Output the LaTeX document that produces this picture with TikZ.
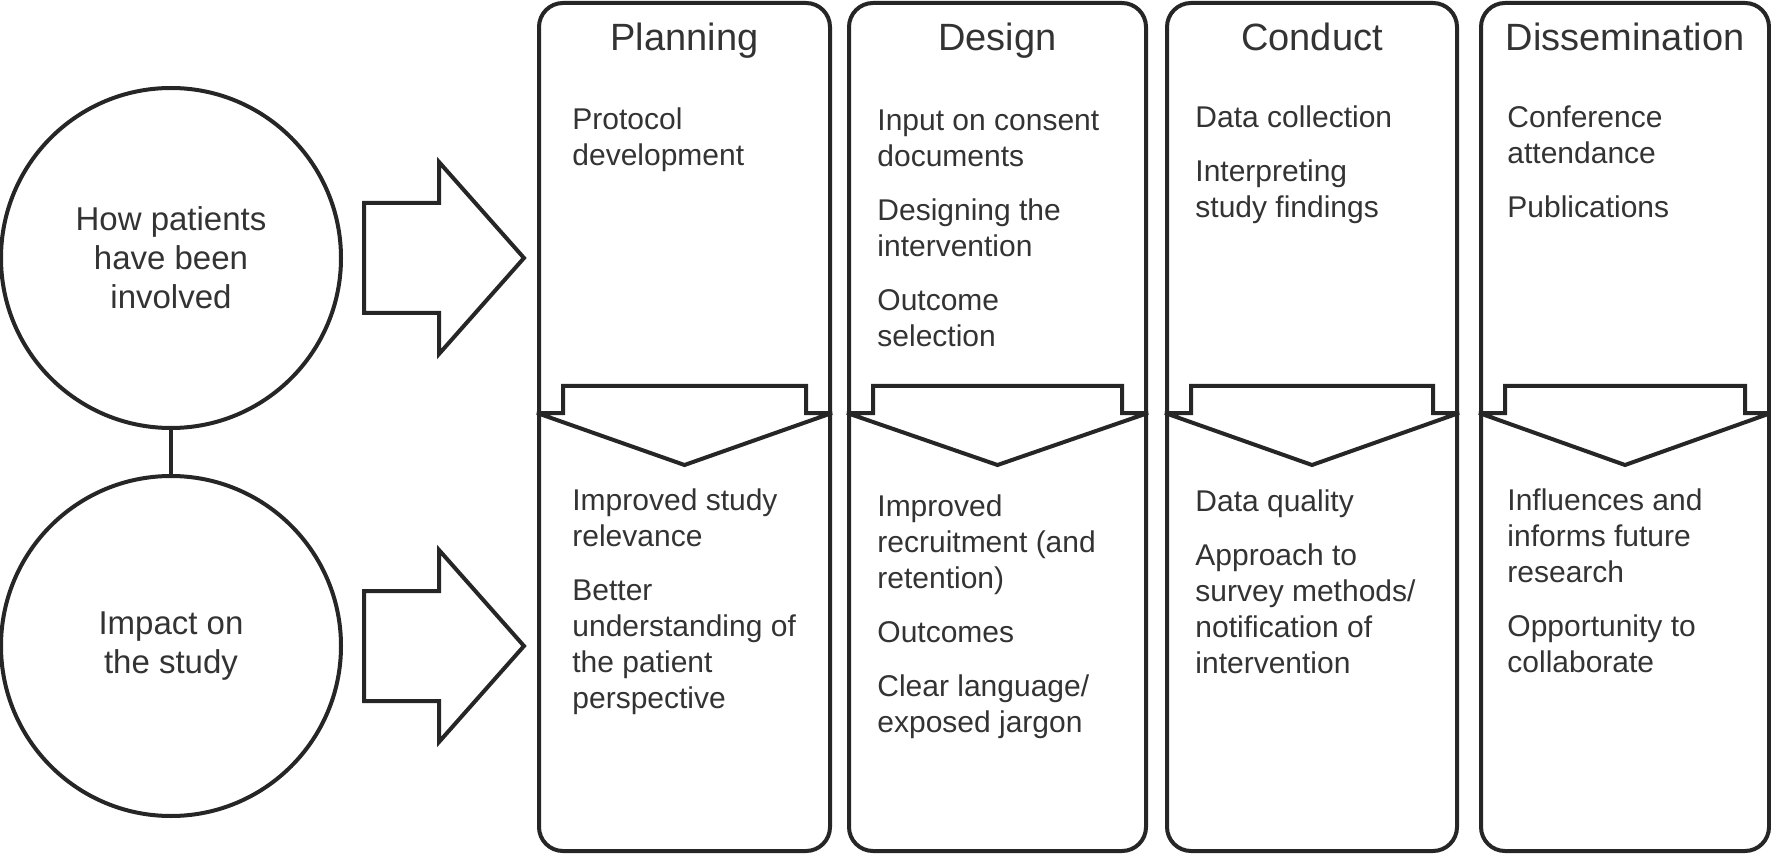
\documentclass[tikz,border=0pt]{standalone}
\usepackage{fontspec}
\setmainfont{Liberation Sans}
\usepackage{xcolor}
\usepackage{tikz}
\usetikzlibrary{calc}
\usetikzlibrary{positioning}

\definecolor{linegray}{HTML}{262626}
\definecolor{textgray}{HTML}{333333}

\begin{document}
\begin{tikzpicture}[x=0.5pt,y=-0.5pt,
	phase/.style={draw=linegray,line width=2pt,rounded corners=12pt,minimum height=424pt,inner sep=0pt},
	circ/.style={circle,draw=linegray,line width=2pt,minimum size=170pt,inner sep=0pt,align=center,text=textgray,font=\fontsize{16.5}{19.5}\selectfont},
	blockarr/.style={draw=linegray,line width=2pt,miter limit=4},
	title/.style={anchor=base,text=textgray,font=\fontsize{19}{23}\selectfont},
	items/.style={anchor=north west,align=left,inner sep=0pt,text=textgray,font=\fontsize{15}{18}\selectfont}]
	\useasboundingbox (0,0) rectangle (1771,855);

	% the two circles
	\node[circ] (how) at (171,258) {How patients\\have been\\involved};
	\node[circ] (impact) at (171,646) {Impact on\\the study};
	\draw[linegray,line width=2pt] (how) -- (impact);

	% block arrows to the right
	\draw[blockarr] ($(how.east)+(21,-55)$) -- ++(75,0) -- ++(0,-41) -- ++(85,96) -- ++(-85,96) -- ++(0,-41) -- ++(-75,0) -- cycle;
	\draw[blockarr] ($(impact.east)+(21,-55)$) -- ++(75,0) -- ++(0,-41) -- ++(85,96) -- ++(-85,96) -- ++(0,-41) -- ++(-75,0) -- cycle;

	% the four phases
	\node[phase,minimum width=145.5pt] (plan) at (684.5,427) {};
	\node[phase,minimum width=148.5pt] (design) at (997.5,427) {};
	\node[phase,minimum width=145pt] (conduct) at (1312,427) {};
	\node[phase,minimum width=144pt] (dissem) at (1625,427) {};

	\node[title] at ($(plan.north)+(0,50)$) {Planning};
	\node[title] at ($(design.north)+(0,50)$) {Design};
	\node[title] at ($(conduct.north)+(0,50)$) {Conduct};
	\node[title] at ($(dissem.north)+(0,50)$) {Dissemination};

	% down arrows inside the boxes
	\foreach \col in {plan,design,conduct,dissem}
		\draw[blockarr] ($(\col.west)+(0,-14)$) -- ++(26,0) -- ++(0,-27) -- ($(\col.east)+(-26,-41)$) -- ++(0,27) -- ++(26,0) -- ($(\col.center)+(0,38)$) -- cycle;

	% involvement
	\node[items] at ($(plan.north west)+(35,106)$) {Protocol\\development};
	\node[items] at ($(design.north west)+(30,108)$) {Input on consent\\documents\\[9pt]Designing the\\intervention\\[9pt]Outcome\\selection};
	\node[items] at ($(conduct.north west)+(30,104)$) {Data collection\\[9pt]Interpreting\\study findings};
	\node[items] at ($(dissem.north west)+(28,104)$) {Conference\\attendance\\[9pt]Publications};

	% impact
	\node[items] at ($(plan.north west)+(35,487)$) {Improved study\\relevance\\[9pt]Better\\understanding of\\the patient\\perspective};
	\node[items] at ($(design.north west)+(30,493)$) {Improved\\recruitment (and\\retention)\\[9pt]Outcomes\\[9pt]Clear language/\\exposed jargon};
	\node[items] at ($(conduct.north west)+(30,488)$) {Data quality\\[9pt]Approach to\\survey methods/\\notification of\\intervention};
	\node[items] at ($(dissem.north west)+(28,487)$) {Influences and\\informs future\\research\\[9pt]Opportunity to\\collaborate};
\end{tikzpicture}
\end{document}
